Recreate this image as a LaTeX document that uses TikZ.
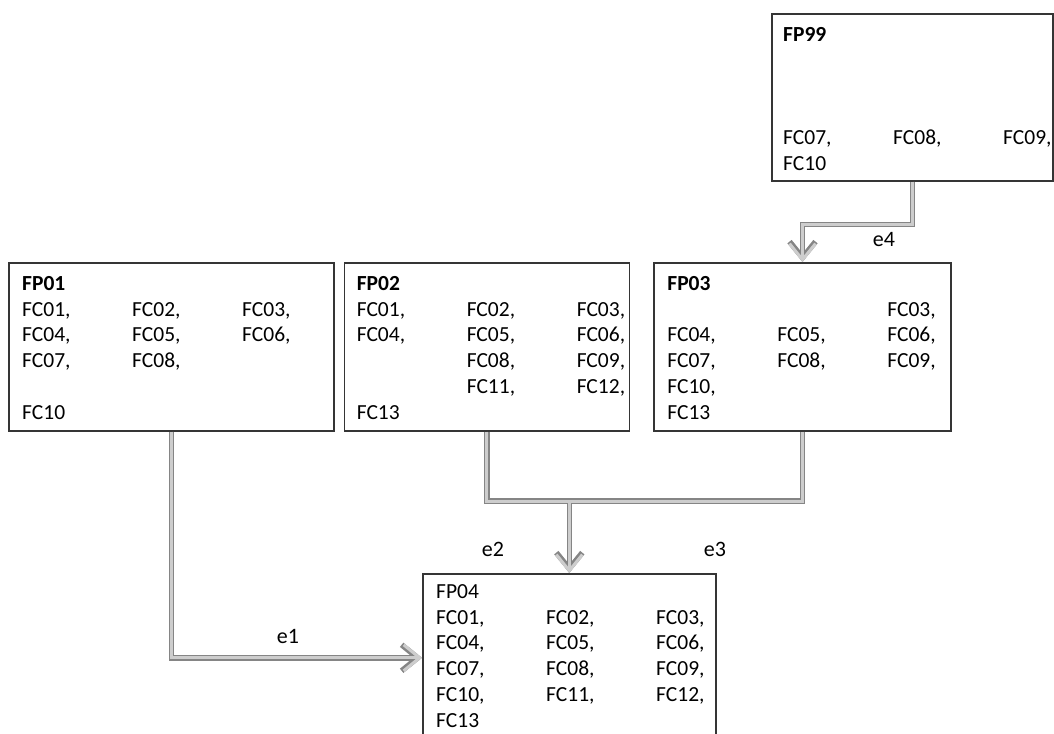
\documentclass[tikz,border=0pt]{standalone}
\usepackage{fontspec}
\setmainfont{Carlito}
\usetikzlibrary{arrows.meta,positioning}
\definecolor{boxline}{HTML}{353535}
\definecolor{linkdark}{HTML}{858585}
\definecolor{linklight}{HTML}{CDCDCD}
\newcommand{\fprows}[1]{\begin{tabular}{@{}p{110pt}@{}p{110pt}@{}l@{}}#1\end{tabular}}

\begin{document}
\begin{tikzpicture}[x=1pt,y=-1pt,
      fpbox/.style={draw=boxline,line width=1.6pt,fill=white,inner sep=0pt,
                    minimum height=168pt},
      fptext/.style={anchor=north west,inner sep=0pt,
                     font=\fontsize{21.5}{25.8}\selectfont},
      link/.style={draw=linklight,line width=3pt,
                   preaction={draw=linkdark,line width=5.5pt},
                   -{Straight Barb[length=16pt,width=26pt]}},
      elbl/.style={font=\fontsize{22}{24}\selectfont}]
    \useasboundingbox (0,0) rectangle (1054,733);
    \node[fpbox,minimum width=325pt,anchor=north west] (fp01) at (8,262) {};
    \node[fpbox,minimum width=285pt,right=9pt of fp01] (fp02) {};
    \node[fpbox,minimum width=297pt,right=23pt of fp02] (fp03) {};
    \node[fpbox,minimum width=281pt,minimum height=167pt,anchor=north west] (fp99) at (771,13) {};
    \node[fpbox,minimum width=293pt,anchor=north west] (fp04) at (422,573) {};
    \node[fptext] (fp01txt) at ([xshift=14pt,yshift=-10pt]fp01.north west) {\fprows{%
      \textbf{FP01}\\
      FC01, & FC02, & FC03,\\
      FC04, & FC05, & FC06,\\
      FC07, & FC08, &\\
      \\
      FC10}};
    \node[fptext] (fp02txt) at ([xshift=13pt,yshift=-10pt]fp02.north west) {\fprows{%
      \textbf{FP02}\\
      FC01, & FC02, & FC03,\\
      FC04, & FC05, & FC06,\\
            & FC08, & FC09,\\
            & FC11, & FC12,\\
      FC13}};
    \node[fptext] (fp03txt) at ([xshift=14pt,yshift=-10pt]fp03.north west) {\fprows{%
      \textbf{FP03}\\
            &       & FC03,\\
      FC04, & FC05, & FC06,\\
      FC07, & FC08, & FC09,\\
      FC10, &       &\\
      FC13}};
    \node[fptext] (fp99txt) at ([xshift=12pt,yshift=-10pt]fp99.north west) {\fprows{%
      \textbf{FP99}\\
      \\
      \\
      \\
      FC07, & FC08, & FC09,\\
      FC10}};
    \node[fptext] (fp04txt) at ([xshift=14pt,yshift=-7pt]fp04.north west) {\fprows{%
      FP04\\
      FC01, & FC02, & FC03,\\
      FC04, & FC05, & FC06,\\
      FC07, & FC08, & FC09,\\
      FC10, & FC11, & FC12,\\
      FC13}};
    \coordinate[above=72pt of fp04.north] (merge);
    \draw[link] (fp01.south) |- (fp04.west);
    \draw[link] (fp02.south) |- (merge) -| (fp03.south) (merge) -- (fp04.north);
    \draw[link] (fp99.south) -- ++(0,43) -| (fp03.north);
    \node[elbl] (e1) at (288,636) {e1};
    \node[elbl] (e2) at (493,549) {e2};
    \node[elbl] (e3) at (715,549) {e3};
    \node[elbl] (e4) at (884,240) {e4};
  \end{tikzpicture}
\end{document}
